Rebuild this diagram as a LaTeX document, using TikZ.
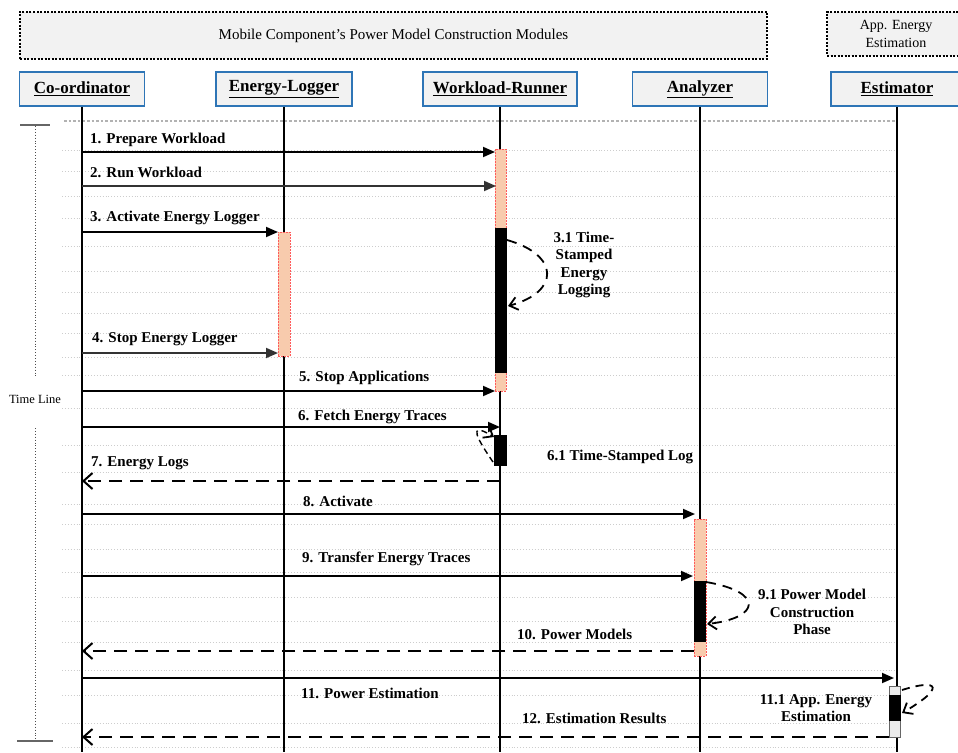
\documentclass[tikz,border=0pt]{standalone}
\usepackage{fontspec}
\setmainfont{Liberation Serif}
\usetikzlibrary{arrows.meta}
\definecolor{hdrblue}{RGB}{46,117,182}
\definecolor{boxgray}{RGB}{242,242,242}
\definecolor{peach}{RGB}{248,203,173}
\definecolor{barred}{RGB}{255,90,90}
\definecolor{guide}{RGB}{205,205,205}
\begin{document}
\begin{tikzpicture}[x=1pt,y=-1pt,
  hdr/.style={draw=hdrblue,line width=1.8pt,fill=boxgray,minimum height=34pt,inner sep=0pt,font=\bfseries\fontsize{17}{20}\selectfont},
  grp/.style={draw=black,line width=1.3pt,dash pattern=on 2pt off 1.5pt,fill=boxgray,inner sep=0pt,align=center},
  life/.style={line width=2.2pt},
  msg/.style={line width=1.8pt,-{Triangle[length=12pt,width=10pt]}},
  ret/.style={line width=2.2pt,dash pattern=on 13pt off 8pt,-{Straight Barb[length=9pt,width=16pt,line width=2pt]}},
  loopa/.style={line width=1.8pt,dash pattern=on 10pt off 7pt,-{Straight Barb[length=8pt,width=13pt,line width=1.8pt]}},
  lbl/.style={font=\bfseries\fontsize{15}{17.5}\selectfont,inner sep=0pt,anchor=west},
  note/.style={font=\bfseries\fontsize{15}{17.5}\selectfont,inner sep=0pt,align=center},
  guideline/.style={draw=guide,dotted,line width=0.9pt},
  act/.style={fill=peach,draw=barred,line width=0.6pt,dash pattern=on 2pt off 1pt,inner sep=0pt,anchor=north west},
  blk/.style={fill=black,draw=black,line width=0.5pt,inner sep=0pt,anchor=north west},
  tl/.style={draw=black!70,dotted,line width=0.9pt},
]
\useasboundingbox (0,0) rectangle (958,752);
\clip (0,0) rectangle (958,752);
\fill[white] (0,0) rectangle (958,752);

% guide lines
\draw[guideline,line width=2.6pt,draw=black!30] (64,121) -- (897,121);
\foreach \yy in {150,171,196,218,246,271,292,313,333,357,375,408,445,472,504,524,549,572,597,621,642,670,695,723,747}
  \draw[guideline] (62,\yy) -- (897,\yy);

% group boxes
\node[grp,minimum width=747pt,minimum height=47pt,font=\fontsize{15}{17}\selectfont] (g1) at (393.5,35.5) {Mobile Component’s Power Model Construction Modules};
\node[grp,minimum width=138pt,minimum height=44pt,font=\fontsize{14}{17.5}\selectfont] (g2) at (896,34) {App. Energy\\Estimation};

% headers
\node[hdr,minimum width=125pt] (co) at (82,89) {\underline{Co-ordinator}};
\node[hdr,minimum width=136pt] (el) at (284,89) {\underline{Energy-Logger}};
\node[hdr,minimum width=154pt] (wr) at (500,89) {\underline{Workload-Runner}};
\node[hdr,minimum width=135pt] (an) at (700,89) {\underline{Analyzer}};
\node[hdr,minimum width=132pt] (es) at (897,89) {\underline{Estimator}};

% lifelines
\coordinate (bot) at (0,752);
\foreach \n in {co,el,wr,an,es}
  \draw[life] (\n.south) -- (\n.south |- bot);

% time line
\coordinate (tlt1) at (20,125); \coordinate (tlt2) at (50,125);
\coordinate (tlb1) at (17,741); \coordinate (tlb2) at (53,741);
\draw[draw=black!60,line width=1.2pt] (tlt1) -- (tlt2);
\draw[draw=black!60,line width=1.2pt] (tlb1) -- (tlb2);
\node[font=\fontsize{12.5}{15}\selectfont,inner sep=0pt] (tlabel) at (35,399) {Time Line};
\coordinate (tla) at (35,126); \coordinate (tlb) at (35,376);
\coordinate (tlc) at (35,428); \coordinate (tld) at (35,741);
\draw[tl] (tla) -- (tlb);
\draw[tl] (tlc) -- (tld);

% activation bars
\node[act,minimum width=11pt,minimum height=242pt] (wrbar) at (495,149) {};
\node[blk,minimum width=11pt,minimum height=144pt] (wrblk) at (495,228) {};
\node[blk,minimum width=12pt,minimum height=30pt] (wrblk2) at (494,435) {};
\node[act,minimum width=12pt,minimum height=124pt] (elbar) at (278,232) {};
\node[act,minimum width=12pt,minimum height=137pt] (anbar) at (694,519) {};
\node[blk,minimum width=11pt,minimum height=60pt] (anblk) at (694,581) {};
\node[fill=black!8,draw=black!60,line width=0.8pt,inner sep=0pt,anchor=north west,minimum width=11pt,minimum height=51pt] (esbar) at (889,686) {};
\node[blk,minimum width=11pt,minimum height=25pt] (esblk) at (889,695) {};

% message end points
\coordinate (m1) at (495,152);
\coordinate (m2) at (496,186);
\coordinate (m3) at (278,232);
\coordinate (m4) at (278,353);
\coordinate (m5) at (495,391);
\coordinate (m6) at (500,427);
\coordinate (m7) at (500,481);
\coordinate (m8) at (695,514);
\coordinate (m9) at (693,576);
\coordinate (m10) at (694,651);
\coordinate (m11) at (894,678);
\coordinate (m12) at (889,737);

\draw[msg] (co |- m1) -- (m1);
\draw[msg,draw=black!80] (co |- m2) -- (m2);
\draw[msg] (co |- m3) -- (m3);
\draw[msg,draw=black!80] (co |- m4) -- (m4);
\draw[msg] (co |- m5) -- (m5);
\draw[msg] (co |- m6) -- (m6);
\draw[ret] (m7) -- (co |- m7);
\draw[msg] (co |- m8) -- (m8);
\draw[msg] (co |- m9) -- (m9);
\draw[ret] (m10) -- (co |- m10);
\draw[msg] (co |- m11) -- (m11);
\draw[ret] (m12) -- (co |- m12);

% labels
\node[lbl] (l1) at (90,140) {1. Prepare Workload};
\node[lbl] (l2) at (90,172) {2. Run Workload};
\node[lbl] (l3) at (90,218) {3. Activate Energy Logger};
\node[lbl] (l4) at (92,339) {4. Stop Energy Logger};
\node[lbl] (l5) at (299,378) {5. Stop Applications};
\node[lbl] (l6) at (298,417) {6. Fetch Energy Traces};
\node[lbl] (l7) at (91,463) {7. Energy Logs};
\node[lbl] (l8) at (303,501) {8. Activate};
\node[lbl] (l9) at (302,559) {9. Transfer Energy Traces};
\node[lbl] (l10) at (517,634) {10. Power Models};
\node[lbl] (l11) at (301,693) {11. Power Estimation};
\node[lbl] (l12) at (522,718) {12. Estimation Results};
\node[lbl] (l61) at (547,457) {6.1 Time-Stamped Log};
\node[note] (l31) at (584,265) {3.1 Time-\\Stamped\\Energy\\Logging};
\node[note] (l91) at (812,612) {9.1 Power Model\\Construction\\Phase};
\node[note] (l111) at (816,708) {11.1 App. Energy\\Estimation};

% self loops
\coordinate (s31a) at (507,240); \coordinate (s31b) at (508,306);
\draw[loopa] (s31a) .. controls (560,255) and (560,292) .. (s31b);
\coordinate (s61a) at (493,462); \coordinate (s61b) at (494,437);
\draw[loopa,dash pattern=on 6pt off 4pt,line width=1.4pt] (s61a) .. controls (478,440) and (466,420) .. (s61b);
\coordinate (s91a) at (706,582); \coordinate (s91b) at (707,624);
\draw[loopa] (s91a) .. controls (765,592) and (760,618) .. (s91b);
\coordinate (s111a) at (902,690); \coordinate (s111b) at (902,713);
\draw[loopa,dash pattern=on 8pt off 6pt] (s111a) .. controls (940,678) and (945,688) .. (s111b);
\end{tikzpicture}
\end{document}
